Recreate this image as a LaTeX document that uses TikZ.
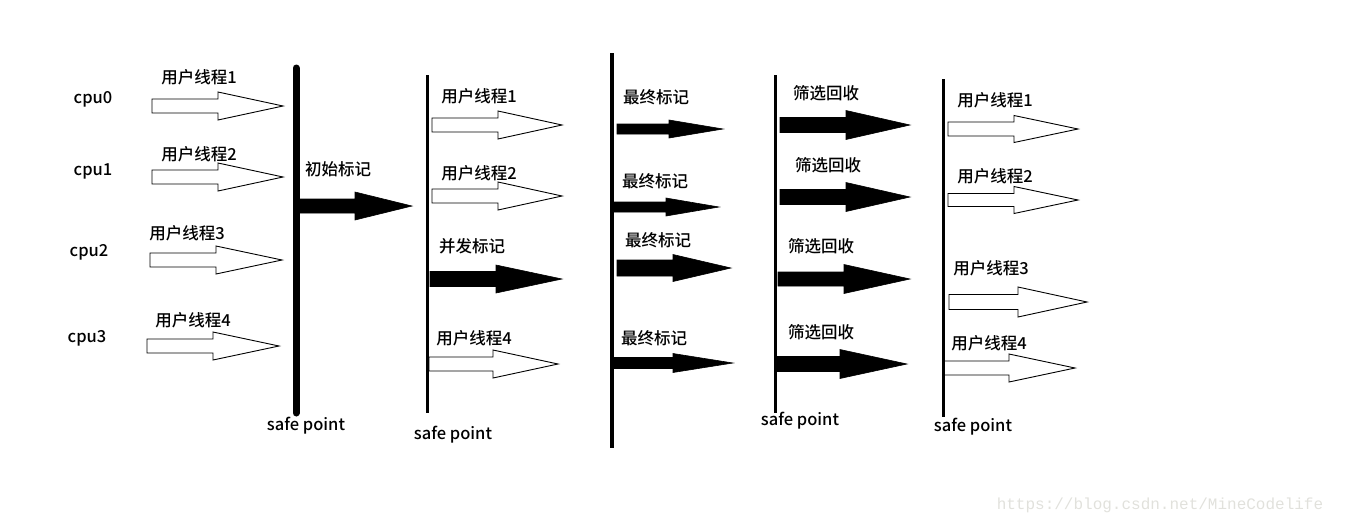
\documentclass[tikz,border=0pt]{standalone}
\usepackage{fontspec}
\setmainfont{Noto Sans CJK SC}[UprightFont=* Medium]
\newfontfamily\wmfont{Liberation Mono}
\usepackage{tikz}
\usetikzlibrary{calc}
\definecolor{wmgray}{RGB}{225,225,220}
\tikzstyle{Harrow}=[draw=black,fill=white,line width=0.9pt]
\tikzstyle{Barrow}=[draw=black,fill=black,line width=0.6pt]
\tikzstyle{lbl}=[inner sep=0pt,font=\fontsize{16.5}{18}\selectfont]
\tikzstyle{spline}=[draw=black,line width=3pt]
% block arrow: style, tip name, x start, x head base, x tip, y, shaft half, head half
\newcommand{\blockarrow}[8]{%
 \coordinate (#2) at (#5,#6);
 \path[#1] (#3,#6-#7) -- (#4,#6-#7) -- (#4,#6-#8) -- (#2) -- (#4,#6+#8) -- (#4,#6+#7) -- (#3,#6+#7) -- cycle;}

\begin{document}
\begin{tikzpicture}[x=1pt,y=-1pt]
\useasboundingbox (0,0) rectangle (1346,523);

\node[lbl] (cpu0) at (93,99) {cpu0};
\node[lbl] (cpu1) at (93,171) {cpu1};
\node[lbl] (cpu2) at (89,252) {cpu2};
\node[lbl] (cpu3) at (87,338) {cpu3};

% first column
\node[lbl] (u11) at (199,77) {用户线程1};
\node[lbl] (u12) at (199,154) {用户线程2};
\node[lbl] (u13) at (187,233) {用户线程3};
\node[lbl] (u14) at (193,320) {用户线程4};
\blockarrow{Harrow}{a1}{152}{218}{283}{106}{7}{14}
\blockarrow{Harrow}{a2}{152}{218}{283}{177}{7}{14}
\blockarrow{Harrow}{a3}{150}{216}{282}{260}{7}{14}
\blockarrow{Harrow}{a4}{147}{213}{279}{346}{7}{14}

\coordinate (top1) at (296,68);
\coordinate (bot1) at (296,413);
\node[lbl] (sp1) at (306,426) {safe point};
\node[lbl] (init) at (338,169) {初始标记};
\blockarrow{Barrow}{b0}{299}{355}{412}{206}{7}{14}

% second column
\coordinate (top2) at (427,75);
\coordinate (bot2) at (427,413);
\node[lbl] (sp2) at (453,435) {safe point};
\node[lbl] (u21) at (479,96) {用户线程1};
\node[lbl] (u22) at (479,173) {用户线程2};
\node[lbl] (conc) at (472,246) {并发标记};
\node[lbl] (u24) at (474,338) {用户线程4};
\blockarrow{Harrow}{c1}{432}{498}{562}{125}{7}{14}
\blockarrow{Harrow}{c2}{432}{498}{562}{196}{7}{14}
\blockarrow{Barrow}{c3}{430}{496}{562}{279}{7.5}{14}
\blockarrow{Harrow}{c4}{429}{493}{558}{364}{7}{14}

% third column
\coordinate (top3) at (612,53);
\coordinate (bot3) at (612,448);
\node[lbl] (fin1) at (656,97) {最终标记};
\node[lbl] (fin2) at (655,181) {最终标记};
\node[lbl] (fin3) at (658,240) {最终标记};
\node[lbl] (fin4) at (654,338) {最终标记};
\blockarrow{Barrow}{d1}{617}{669}{723}{129}{5}{9}
\blockarrow{Barrow}{d2}{613}{666}{719}{207}{5}{9}
\blockarrow{Barrow}{d3}{617}{673}{731}{268}{8}{13.5}
\blockarrow{Barrow}{d4}{613}{673}{733}{363}{5.5}{9.5}

% fourth column
\coordinate (top4) at (775,75);
\coordinate (bot4) at (775,413);
\node[lbl] (sp4) at (800,421) {safe point};
\node[lbl] (sel1) at (826,93) {筛选回收};
\node[lbl] (sel2) at (828,165) {筛选回收};
\node[lbl] (sel3) at (821,246) {筛选回收};
\node[lbl] (sel4) at (821,332) {筛选回收};
\blockarrow{Barrow}{e1}{780}{846}{910}{125}{7.5}{14.5}
\blockarrow{Barrow}{e2}{780}{846}{910}{197}{7.5}{14.5}
\blockarrow{Barrow}{e3}{778}{844}{910}{279}{7}{14.5}
\blockarrow{Barrow}{e4}{776}{840}{907}{364}{7.5}{14.5}

% fifth column
\coordinate (top5) at (943,79);
\coordinate (bot5) at (943,417);
\node[lbl] (sp5) at (973,427) {safe point};
\node[lbl] (u51) at (995,100) {用户线程1};
\node[lbl] (u52) at (995,176) {用户线程2};
\node[lbl] (u53) at (991,268) {用户线程3};
\node[lbl] (u54) at (989,343) {用户线程4};
\blockarrow{Harrow}{f1}{948}{1014}{1078}{129}{7}{13.5}
\blockarrow{Harrow}{f2}{948}{1014}{1078}{200}{6.5}{13.5}
\blockarrow{Harrow}{f3}{949}{1018}{1087}{302}{7.5}{15}
\blockarrow{Harrow}{f4}{944}{1009}{1075}{368}{7}{14}

\path
(top1) edge [spline,line width=7pt,line cap=round] (bot1)
(top2) edge [spline] (bot2)
(top3) edge [spline,line width=4.5pt] (bot3)
(top4) edge [spline] (bot4)
(top5) edge [spline] (bot5);

\node[inner sep=0pt,text=wmgray,font=\wmfont\fontsize{16}{18}\selectfont] (wm) at (1160,505) {https://blog.csdn.net/MineCodelife};

\end{tikzpicture}
\end{document}
